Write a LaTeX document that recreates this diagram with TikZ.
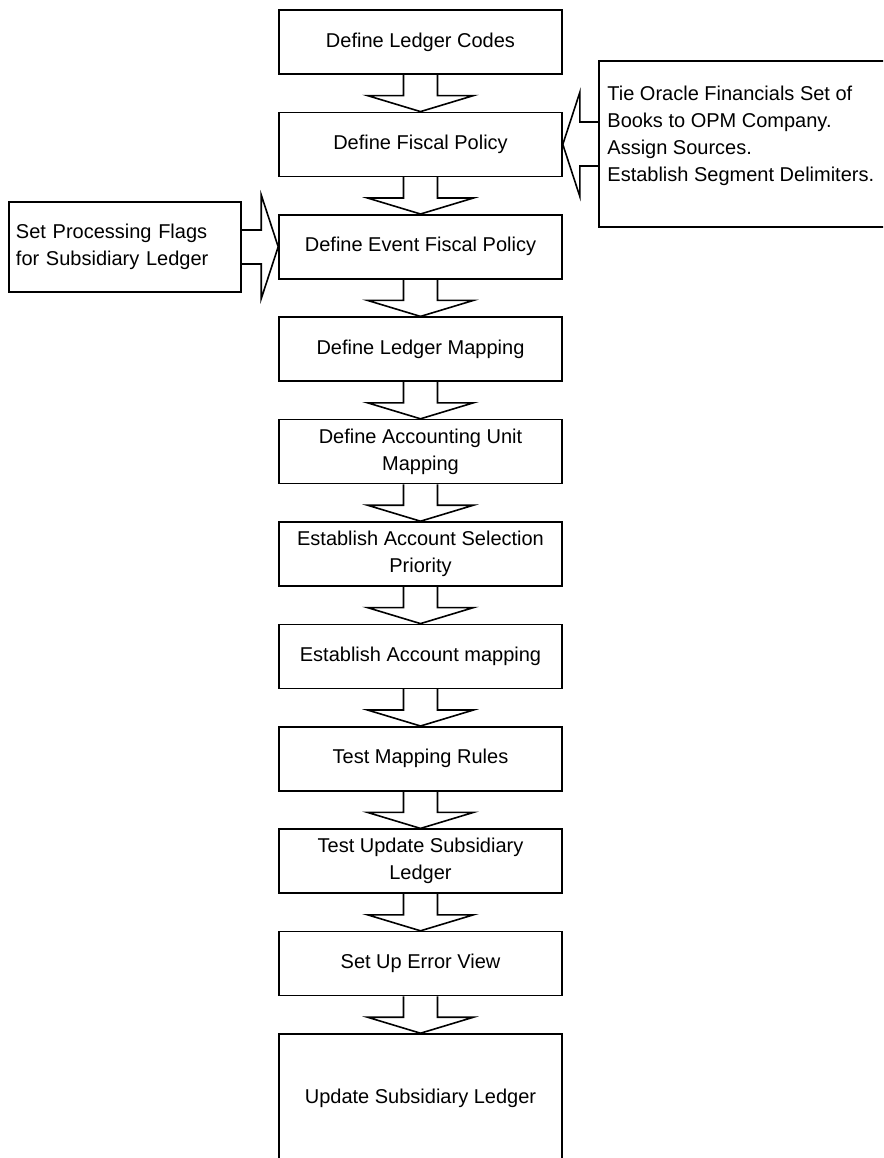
\documentclass[tikz,border=0pt]{standalone}
\usepackage{fontspec}
\setmainfont{Liberation Sans}
\begin{document}
\begin{tikzpicture}[x=1pt,y=-1pt,
  every node/.style={font=\fontsize{20}{27}\selectfont},
  mainbox/.style={draw, line width=1.6pt, minimum width=283pt, minimum height=64pt, align=center, inner sep=0pt},
  sidebox/.style={draw, line width=1.6pt, inner sep=0pt},
  blockarrow/.style={draw, line width=1.6pt, line join=miter}
]
\useasboundingbox (0,0) rectangle (883,1158);
\clip (0,0) rectangle (883,1158);
\fill[white] (0,0) rectangle (883,1158);

% main column
\node[mainbox] (b1)  at (420.5, 42.0) {Define Ledger Codes};
\node[mainbox] (b2)  at (420.5,144.4) {Define Fiscal Policy};
\node[mainbox] (b3)  at (420.5,246.8) {Define Event Fiscal Policy};
\node[mainbox] (b4)  at (420.5,349.2) {Define Ledger Mapping};
\node[mainbox] (b5)  at (420.5,451.6) {Define Accounting Unit\\Mapping};
\node[mainbox] (b6)  at (420.5,554.0) {Establish Account Selection\\Priority};
\node[mainbox] (b7)  at (420.5,656.4) {Establish Account mapping};
\node[mainbox] (b8)  at (420.5,758.8) {Test Mapping Rules};
\node[mainbox] (b9)  at (420.5,861.2) {Test Update Subsidiary\\Ledger};
\node[mainbox] (b10) at (420.5,963.6) {Set Up Error View};
\node[mainbox, minimum height=128pt] (b11) at (420.5,1098.0) {Update Subsidiary Ledger};

% block arrows between main boxes
\foreach \a/\b in {b1/b2,b2/b3,b3/b4,b4/b5,b5/b6,b6/b7,b7/b8,b8/b9,b9/b10,b10/b11}{
  \draw[blockarrow] ([xshift=-17pt]\a.south) |- ([xshift=-53pt,yshift=16pt]\b.north)
    -- (\b.north) -- ([xshift=53pt,yshift=16pt]\b.north) -| ([xshift=17pt]\a.south);
}

% left side box
\node[sidebox, minimum width=232pt, minimum height=90pt, text width=218pt, inner xsep=7pt, align=left]
  (lb) at (125,247) {Set Processing Flags\\for Subsidiary Ledger};
\draw[blockarrow] ([yshift=17pt]lb.east) -| ([xshift=-17pt,yshift=52pt]b3.west)
  -- (b3.west) -- ([xshift=-17pt,yshift=-52pt]b3.west) |- ([yshift=-17pt]lb.east);

% right side box (cut by the page edge)
\node[sidebox, minimum width=292pt, minimum height=166pt] (rb) at (745,144) {};
\node[inner sep=0pt, anchor=west, align=left] (rt) at ([xshift=9pt,yshift=8pt]rb.west)
  {Tie Oracle Financials Set of\\Books to OPM Company.\\Assign Sources.\\Establish Segment Delimiters.};
\draw[blockarrow] ([yshift=22pt]rb.west) -| ([xshift=17pt,yshift=52pt]b2.east)
  -- (b2.east) -- ([xshift=17pt,yshift=-52pt]b2.east) |- ([yshift=-22pt]rb.west);
\end{tikzpicture}
\end{document}
